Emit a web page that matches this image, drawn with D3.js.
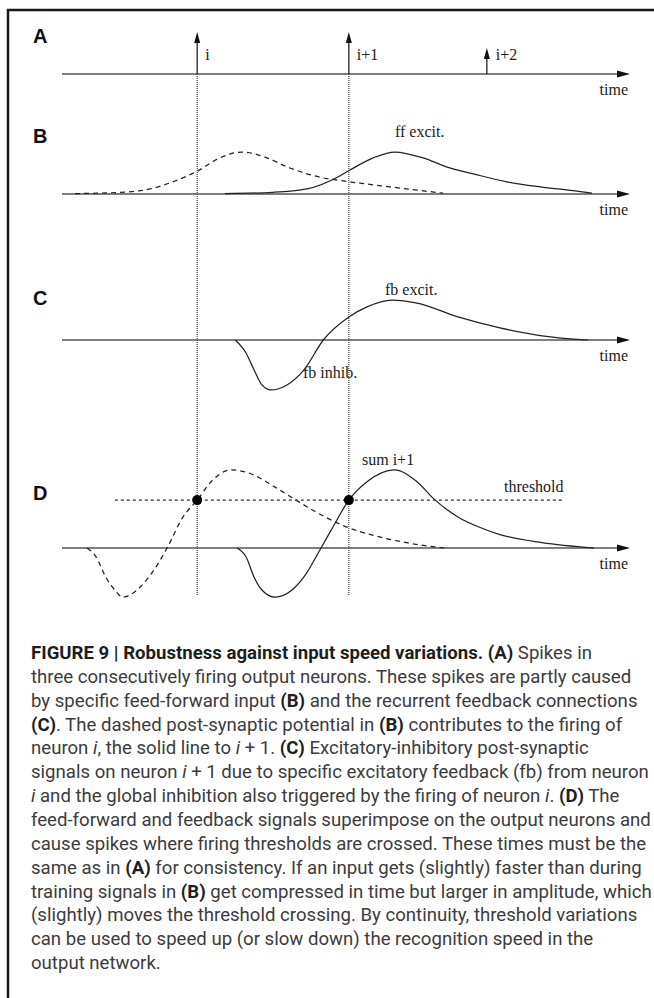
<!DOCTYPE html>
<html>
<head>
<meta charset="utf-8">
<script src="https://cdnjs.cloudflare.com/ajax/libs/d3/7.8.5/d3.min.js"></script>
<style>
    body { margin: 0; background: #fff; }
    text.serif { font-family: "Liberation Serif", "Times New Roman", serif; font-size: 16px; fill: #222; }
    text.panel { font-family: "Liberation Sans", Arial, sans-serif; font-weight: bold; font-size: 20px; fill: #111; }
    text.caption { font-family: Roboto, "Liberation Sans", sans-serif; font-size: 18.6px; fill: #3c3c3c; }
</style>
</head>
<body>
<div class="container"></div>
<script>
// spikes of the three output neurons (panel A)
const spikeNames = ['i', 'i+1', 'i+2'];
const spikeTimes = [23.8, 50.5, 74.8];
const spikeHeights = [1.0, 1.0, 0.62];

// panel B: feed-forward PSPs [time, amplitude]
const ffDashed = [[2.3, 0.01], [10.2, 0.04], [15.5, 0.12], [19.9, 0.31], [23.9, 0.55], [27.8, 0.86], [31.7, 1.0],
    [35.7, 0.88], [40.1, 0.62], [45.4, 0.40], [50.7, 0.29], [57.7, 0.17], [67.1, 0.02]];
const ffSolid = [[28.7, 0.01], [37.1, 0.04], [43.1, 0.12], [48.9, 0.43], [50.7, 0.57], [54.8, 0.86], [58.6, 1.0],
    [63.6, 0.86], [67.8, 0.64], [72.4, 0.48], [78.3, 0.29], [84.2, 0.17], [90.0, 0.08], [93.3, 0.02]];

// panel C: feedback inhibition + excitation
const fbCurve = [[30.5, 0], [32.4, -0.31], [33.8, -0.71], [35.2, -1.07], [36.8, -1.19], [39.6, -1.07], [42.6, -0.71],
    [46.0, 0], [50.5, 0.55], [53.7, 0.79], [58.1, 0.95], [62.5, 0.88], [69.7, 0.55], [77.1, 0.29], [84.5, 0.10], [92.6, 0]];

// panel D: summed inputs
const sumDashed = [[4.4, 0], [6.0, -0.21], [7.7, -0.69], [9.3, -1.0], [10.7, -1.17], [13.2, -1.0], [15.8, -0.6],
    [18.5, 0], [21.3, 0.74], [23.8, 1.14], [26.4, 1.6], [29.8, 1.86], [33.0, 1.78], [37.5, 1.45], [41.2, 1.14],
    [45.6, 0.79], [50.5, 0.48], [55.1, 0.29], [60.9, 0.12], [67.3, 0]];
const sumSolid = [[30.8, 0], [32.4, -0.21], [33.8, -0.69], [35.2, -1.0], [37.5, -1.17], [40.5, -1.0], [42.6, -0.69],
    [45.6, 0], [47.7, 0.5], [50.5, 1.14], [53.7, 1.58], [58.5, 1.86], [62.3, 1.6], [65.7, 1.14], [69.7, 0.74],
    [73.4, 0.5], [77.1, 0.32], [84.5, 0.13], [93.7, 0]];
const threshold = 1.14;
const thresholdSpan = [9.3, 88.0];

const captionLines = [
    "**FIGURE 9 | Robustness against input speed variations. (A)** Spikes in",
    "three consecutively firing output neurons. These spikes are partly caused",
    "by specific feed-forward input **(B)** and the recurrent feedback connections",
    "**(C)**. The dashed post-synaptic potential in **(B)** contributes to the firing of",
    "neuron _i_, the solid line to _i_ + 1. **(C)** Excitatory-inhibitory post-synaptic",
    "signals on neuron _i_ + 1 due to specific excitatory feedback (fb) from neuron",
    "_i_ and the global inhibition also triggered by the firing of neuron _i_. **(D)** The",
    "feed-forward and feedback signals superimpose on the output neurons and",
    "cause spikes where firing thresholds are crossed. These times must be the",
    "same as in **(A)** for consistency. If an input gets (slightly) faster than during",
    "training signals in **(B)** get compressed in time but larger in amplitude, which",
    "(slightly) moves the threshold crossing. By continuity, threshold variations",
    "can be used to speed up (or slow down) the recognition speed in the",
    "output network."
];

const w = 654,
    h = 998,
    axisY = { A: 74, B: 194, C: 340, D: 548 },
    labelY = { A: 43, B: 143, C: 305, D: 500 };

const x = d3.scaleLinear().domain([0, 100]).range([62, 630]);
const y = d3.scaleLinear().domain([0, 1]).range([0, -42]);

const line = d3.line()
    .x(d => x(d[0]))
    .y(d => y(d[1]))
    .curve(d3.curveMonotoneX);

const svg = d3.select("div.container")
    .append("svg")
    .attr("width", w)
    .attr("height", h);

//frame (top + left rule)
svg.append("path")
    .attr("d", `M8,${h} L8,10 L${w},10`)
    .attr("fill", "none")
    .attr("stroke", "#1a1a1a")
    .attr("stroke-width", 2.5);

//dotted guides through the spike times of i and i+1
svg.append("g")
    .selectAll("line")
    .data(spikeTimes.slice(0, 2))
    .enter()
    .append("line")
    .attr("x1", d => x(d))
    .attr("x2", d => x(d))
    .attr("y1", axisY.A)
    .attr("y2", axisY.D + 48)
    .attr("stroke", "#333")
    .attr("stroke-width", 1.1)
    .attr("stroke-dasharray", "1,1");

//one group per panel with its time axis
const panels = svg.selectAll("g.panel")
    .data(["A", "B", "C", "D"])
    .enter()
    .append("g")
    .attr("class", "panel")
    .attr("id", d => "panel" + d)
    .attr("transform", d => `translate(0,${axisY[d]})`);

panels.append("line")
    .attr("x1", x(0))
    .attr("x2", x(100) - 10)
    .attr("stroke", "#555")
    .attr("stroke-width", 1.6);

panels.append("path")
    .attr("d", `M${x(100)},0 L${x(100) - 13},-3.5 L${x(100) - 13},3.5 Z`)
    .attr("fill", "#111");

panels.append("text")
    .attr("class", "serif")
    .attr("x", x(100) - 2)
    .attr("y", 21)
    .attr("text-anchor", "end")
    .text("time");

panels.append("text")
    .attr("class", "panel")
    .attr("x", 33)
    .attr("y", d => labelY[d] - axisY[d])
    .text(d => d);

//A: spike arrows
const spikes = d3.select("#panelA")
    .selectAll("g.spike")
    .data(spikeTimes.map((t, i) => ({ t: t, h: spikeHeights[i], name: spikeNames[i] })))
    .enter()
    .append("g")
    .attr("class", "spike");

spikes.append("line")
    .attr("x1", d => x(d.t))
    .attr("x2", d => x(d.t))
    .attr("y1", 0)
    .attr("y2", d => y(d.h) + 8)
    .attr("stroke", "#222")
    .attr("stroke-width", 1.3);

spikes.append("path")
    .attr("d", d => `M${x(d.t)},${y(d.h)} L${x(d.t) - 3},${y(d.h) + 11} L${x(d.t) + 3},${y(d.h) + 11} Z`)
    .attr("fill", "#111");

spikes.append("text")
    .attr("class", "serif")
    .attr("x", d => x(d.t) + (d.name === 'i+2' ? 9 : 8))
    .attr("y", -14)
    .text(d => d.name);

//B, C, D: potentials
const curves = [
    { panel: "B", data: ffDashed, dash: "5,4" },
    { panel: "B", data: ffSolid, dash: null },
    { panel: "C", data: fbCurve, dash: null },
    { panel: "D", data: sumDashed, dash: "5,4" },
    { panel: "D", data: sumSolid, dash: null }
];

curves.forEach(c => {
    d3.select("#panel" + c.panel)
        .append("path")
        .attr("d", line(c.data))
        .attr("fill", "none")
        .attr("stroke", "#222")
        .attr("stroke-width", 1.25)
        .attr("stroke-dasharray", c.dash);
});

//D: threshold and crossings
const pD = d3.select("#panelD");
pD.append("line")
    .attr("x1", x(thresholdSpan[0]))
    .attr("x2", x(thresholdSpan[1]))
    .attr("y1", y(threshold))
    .attr("y2", y(threshold))
    .attr("stroke", "#333")
    .attr("stroke-width", 1.1)
    .attr("stroke-dasharray", "3,3");

pD.selectAll("circle")
    .data(spikeTimes.slice(0, 2))
    .enter()
    .append("circle")
    .attr("cx", d => x(d))
    .attr("cy", y(threshold))
    .attr("r", 5)
    .attr("fill", "#000");

//curve annotations
const notes = [
    { panel: "B", text: "ff excit.", x: 395, y: 137 },
    { panel: "C", text: "fb excit.", x: 385, y: 295 },
    { panel: "C", text: "fb inhib.", x: 303, y: 378 },
    { panel: "D", text: "sum i+1", x: 362, y: 465 },
    { panel: "D", text: "threshold", x: 504, y: 492 }
];
svg.append("g")
    .selectAll("text")
    .data(notes)
    .enter()
    .append("text")
    .attr("class", "serif")
    .attr("x", d => d.x)
    .attr("y", d => d.y)
    .text(d => d.text);

//caption
const cap = svg.append("g").attr("id", "caption");
captionLines.forEach((l, i) => {
    const t = cap.append("text")
        .attr("class", "caption")
        .attr("x", 31)
        .attr("y", 659 + i * 23.85)
        .attr("xml:space", "preserve");
    l.split(/(\*\*[^*]+\*\*|_[^_]+_)/).filter(s => s.length).forEach(s => {
        const span = t.append("tspan");
        if (s.startsWith("**")) {
            span.text(s.slice(2, -2)).attr("font-weight", "bold").attr("fill", "#1e1e1e");
        } else if (s.startsWith("_")) {
            span.text(s.slice(1, -1)).attr("font-style", "italic");
        } else {
            span.text(s);
        }
    });
});
</script>
</body>
</html>
